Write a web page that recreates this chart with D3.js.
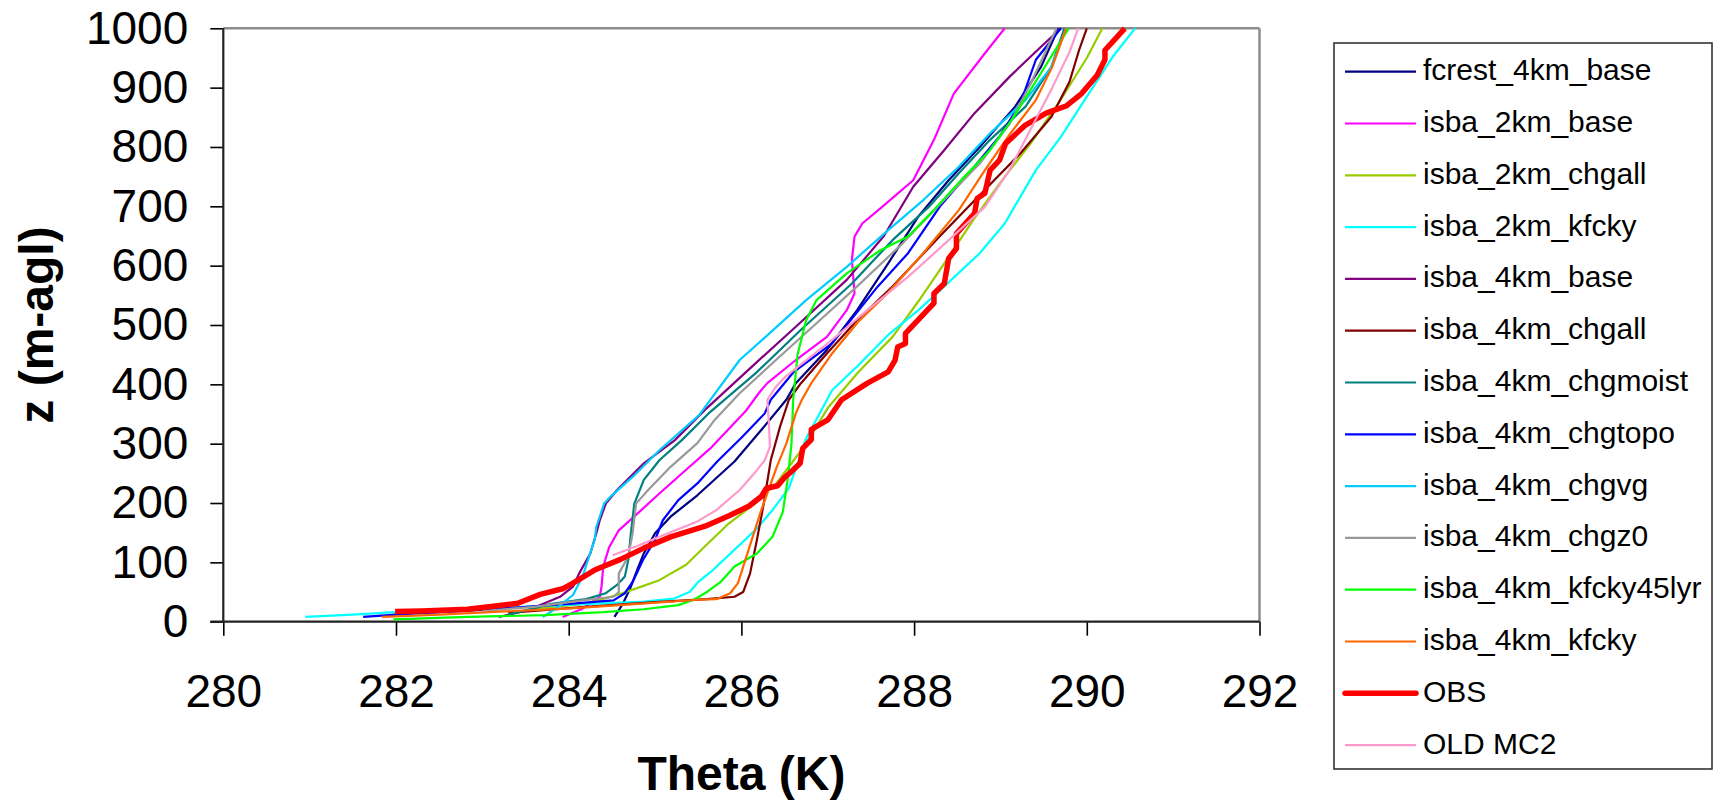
<!DOCTYPE html>
<html>
<head>
<meta charset="utf-8">
<script src="https://d3js.org/d3.v7.min.js"></script>
<style>
  body { margin: 0; background: #fff; }
  text { font-family: "Liberation Sans", Arial, sans-serif; fill: #000; }
</style>
</head>
<body>
<svg width="1723" height="800"></svg>
<script>
const xTicks = [280, 282, 284, 286, 288, 290, 292]
const yTicks = [0, 100, 200, 300, 400, 500, 600, 700, 800, 900, 1000]

const seriesNames = [
    "fcrest_4km_base", "isba_2km_base", "isba_2km_chgall", "isba_2km_kfcky",
    "isba_4km_base", "isba_4km_chgall", "isba_4km_chgmoist", "isba_4km_chgtopo",
    "isba_4km_chgvg", "isba_4km_chgz0", "isba_4km_kfcky45lyr", "isba_4km_kfcky",
    "OBS", "OLD MC2"
]

// [theta (K), z (m-agl)]
const fcrest4kmBase = [[284.53,8],[284.63,31],[284.72,59],[284.8,90],[284.87,115],[285.0,149],[285.18,177],[285.49,213],[285.92,270],[286.23,323],[286.52,374],[286.63,402],[286.99,458],[287.34,525],[287.7,604],[288.05,683],[288.4,744],[288.76,800],[289.17,868],[289.47,935],[289.67,1000]]
const isba2kmBase = [[283.93,8],[284.16,22],[284.36,42],[284.38,59],[284.4,93],[284.47,126],[284.58,154],[284.78,180],[285.05,216],[285.36,256],[285.64,292],[286.05,355],[286.2,385],[286.3,402],[286.63,441],[286.99,480],[287.22,525],[287.31,553],[287.28,610],[287.31,649],[287.4,671],[287.63,699],[287.99,744],[288.23,812],[288.46,890],[288.82,958],[289.05,1000]]
const isba2kmChgall = [[283.6,22],[284.2,30],[284.56,45],[284.8,57],[285.05,70],[285.36,96],[285.6,130],[285.85,165],[286.11,194],[286.4,232],[286.75,300],[287.0,360],[287.35,420],[287.75,480],[288.05,540],[288.35,604],[288.7,680],[289.05,750],[289.35,806],[289.7,880],[290.0,950],[290.18,1000]]
const isba2kmKfcky = [[280.95,8],[281.5,12],[282.0,16],[282.8,20],[283.6,26],[284.4,31],[284.87,34],[285.22,39],[285.4,50],[285.5,67],[285.67,87],[285.94,124],[286.18,157],[286.37,190],[286.55,225],[286.66,270],[286.74,306],[286.94,360],[287.05,390],[287.34,430],[287.72,486],[288.05,525],[288.35,565],[288.76,621],[289.05,671],[289.41,761],[289.7,817],[290.0,885],[290.3,952],[290.56,1000]]
const isba4kmBase = [[283.19,8],[283.54,20],[283.9,42],[284.05,59],[284.12,81],[284.25,115],[284.32,149],[284.36,171],[284.43,199],[284.56,222],[284.87,267],[285.23,306],[285.6,360],[286.16,435],[286.63,497],[287.22,576],[287.65,650],[287.99,733],[288.35,795],[288.7,857],[289.11,919],[289.47,969],[289.7,1000]]
const isba4kmChgall = [[283.3,15],[284.2,25],[285.0,33],[285.6,38],[285.92,42],[286.02,50],[286.1,81],[286.18,138],[286.26,200],[286.34,272],[286.45,330],[286.55,374],[286.69,402],[286.99,452],[287.34,508],[287.75,565],[288.3,650],[288.82,728],[289.23,789],[289.59,851],[289.8,910],[289.91,963],[290.0,1000]]
const isba4kmChgmoist = [[283.3,12],[283.8,30],[284.2,38],[284.43,48],[284.56,62],[284.65,76],[284.69,104],[284.72,149],[284.76,199],[284.87,239],[285.05,272],[285.31,306],[285.62,351],[286.16,418],[286.69,492],[287.28,570],[287.75,643],[288.17,699],[288.52,756],[288.88,812],[289.29,868],[289.59,935],[289.74,1000]]
const isba4kmChgtopo = [[281.62,8],[282.0,12],[283.0,20],[284.0,30],[284.52,36],[284.65,48],[284.74,67],[284.86,104],[285.0,138],[285.09,171],[285.27,205],[285.49,233],[285.72,270],[286.0,310],[286.27,351],[286.34,374],[286.6,420],[287.05,469],[287.58,565],[287.93,621],[288.3,700],[288.7,767],[289.0,820],[289.23,873],[289.41,947],[289.7,1000]]
const isba4kmChgvg = [[283.7,8],[283.85,22],[284.05,45],[284.16,76],[284.3,138],[284.32,160],[284.41,199],[284.5,213],[284.74,244],[285.05,289],[285.51,348],[285.98,441],[286.28,480],[286.75,542],[287.22,598],[287.7,660],[288.11,711],[288.52,767],[288.88,823],[289.29,879],[289.59,935],[289.76,1000]]
const isba4kmChgz0 = [[283.0,18],[283.6,25],[284.16,36],[284.52,42],[284.58,50],[284.58,81],[284.69,110],[284.74,149],[284.78,199],[284.92,222],[285.18,261],[285.49,301],[285.69,340],[285.98,385],[286.4,441],[286.87,503],[287.34,565],[287.87,638],[288.35,711],[288.76,772],[289.11,840],[289.35,907],[289.65,1000]]
const isba4kmKfcky45lyr = [[281.97,4],[282.83,8],[283.72,11],[284.4,16],[284.87,21],[285.27,28],[285.45,37],[285.6,50],[285.76,67],[285.92,93],[286.18,115],[286.36,143],[286.48,185],[286.54,244],[286.58,300],[286.6,374],[286.65,450],[286.75,508],[286.87,542],[287.22,587],[287.6,625],[287.93,649],[288.23,694],[288.55,745],[288.88,795],[289.15,850],[289.45,920],[289.79,1000]]
const isba4kmKfcky = [[281.84,8],[282.5,12],[283.2,17],[283.98,22],[284.8,30],[285.5,37],[285.71,38],[285.87,48],[285.96,65],[286.07,115],[286.23,188],[286.41,261],[286.52,300],[286.63,351],[286.7,374],[286.81,402],[287.05,452],[287.35,505],[287.69,553],[288.1,620],[288.52,694],[288.82,761],[289.1,820],[289.41,879],[289.6,935],[289.76,1000]]
const obs = [[281.99,17],[282.3,18],[282.83,21],[283.41,31],[283.67,46],[283.94,56],[284.05,65],[284.3,87],[284.6,105],[284.87,124],[285.18,143],[285.58,161],[285.85,178],[286.09,195],[286.23,211],[286.29,225],[286.42,229],[286.5,243],[286.58,253],[286.68,267],[286.71,292],[286.81,307],[286.81,324],[287.0,340],[287.16,374],[287.46,402],[287.7,421],[287.78,441],[287.81,463],[287.9,469],[287.9,486],[288.23,537],[288.23,553],[288.35,570],[288.4,612],[288.49,629],[288.49,654],[288.7,688],[288.73,713],[288.82,722],[288.88,761],[288.99,778],[289.06,806],[289.29,837],[289.53,857],[289.76,869],[289.94,890],[290.12,921],[290.21,947],[290.21,963],[290.44,1000]]
const oldMc2 = [[284.51,112],[284.8,128],[285.05,143],[285.49,169],[285.71,188],[285.98,222],[286.15,250],[286.27,272],[286.33,295],[286.32,330],[286.3,374],[286.4,396],[286.51,413],[287.05,475],[287.5,530],[287.93,581],[288.4,643],[288.82,699],[289.1,760],[289.35,830],[289.6,900],[289.8,960],[289.9,1000]]

const seriesData = [fcrest4kmBase, isba2kmBase, isba2kmChgall, isba2kmKfcky, isba4kmBase, isba4kmChgall,
    isba4kmChgmoist, isba4kmChgtopo, isba4kmChgvg, isba4kmChgz0, isba4kmKfcky45lyr, isba4kmKfcky, obs, oldMc2]

const colors = ["#000080", "#ff00ff", "#99cc00", "#00ffff", "#800080", "#800000", "#008080",
    "#0000ff", "#00ccff", "#999999", "#00ff00", "#ff6600", "#ff0000", "#ff99cc"]

const svg = d3.select('svg')
const plot = { left: 223.3, right: 1259.5, top: 28.3, bottom: 621.7 }

const x = d3.scaleLinear().domain([280, 292]).range([plot.left, plot.right])
const y = d3.scaleLinear().domain([0, 1000]).range([plot.bottom, plot.top])

// frame: grey top/right, dark axes left/bottom
svg.append('line')
    .attr('x1', plot.left).attr('x2', plot.right)
    .attr('y1', plot.top).attr('y2', plot.top)
    .attr('stroke', '#8c8c8c').attr('stroke-width', 2.5)
svg.append('line')
    .attr('x1', plot.right).attr('x2', plot.right)
    .attr('y1', plot.top).attr('y2', plot.bottom)
    .attr('stroke', '#8c8c8c').attr('stroke-width', 2.5)

const yAxis = svg.append('g')
    .attr('transform', `translate(${plot.left},0)`)
    .call(d3.axisLeft(y).tickValues(yTicks).tickFormat(d3.format('d')).tickSize(13).tickPadding(22))
const xAxis = svg.append('g')
    .attr('transform', `translate(0,${plot.bottom})`)
    .call(d3.axisBottom(x).tickValues(xTicks).tickFormat(d3.format('d')).tickSize(14).tickPadding(39))

;[yAxis, xAxis].forEach(g => {
    g.select('.domain').remove()
    g.selectAll('line').attr('stroke', '#000').attr('stroke-width', 1.6)
    g.selectAll('text').style('font-size', '46px').attr('fill', '#000')
})

svg.append('line')
    .attr('x1', plot.left).attr('x2', plot.left)
    .attr('y1', plot.top).attr('y2', plot.bottom)
    .attr('stroke', '#222').attr('stroke-width', 2.2)
svg.append('line')
    .attr('x1', plot.left - 13).attr('x2', plot.right)
    .attr('y1', plot.bottom).attr('y2', plot.bottom)
    .attr('stroke', '#222').attr('stroke-width', 2.2)

const line = d3.line()
    .x(d => x(d[0]))
    .y(d => y(d[1]))

svg.append('g')
    .selectAll('path')
    .data(seriesData)
    .enter()
    .append('path')
    .attr('d', line)
    .attr('fill', 'none')
    .attr('stroke', (d, i) => colors[i])
    .attr('stroke-width', (d, i) => seriesNames[i] === 'OBS' ? 5.5 : 2.2)
    .attr('stroke-linejoin', 'round')

// axis titles
svg.append('text')
    .attr('x', (plot.left + plot.right) / 2)
    .attr('y', 790)
    .attr('text-anchor', 'middle')
    .style('font-size', '48px')
    .style('font-weight', 'bold')
    .text('Theta (K)')

svg.append('text')
    .attr('transform', `translate(53,${(plot.top + plot.bottom) / 2}) rotate(-90)`)
    .attr('text-anchor', 'middle')
    .style('font-size', '48px')
    .style('font-weight', 'bold')
    .text('z (m-agl)')

// legend
const legend = svg.append('g')
legend.append('rect')
    .attr('x', 1334).attr('y', 43)
    .attr('width', 378).attr('height', 726)
    .attr('fill', '#fff')
    .attr('stroke', '#333').attr('stroke-width', 1.6)

const rows = legend.selectAll('g.row')
    .data(seriesNames)
    .enter()
    .append('g')
    .attr('class', 'row')
    .attr('transform', (d, i) => `translate(0,${71.7 + i * 51.8})`)

rows.append('line')
    .attr('x1', 1345).attr('x2', 1416)
    .attr('stroke', (d, i) => colors[i])
    .attr('stroke-width', d => d === 'OBS' ? 5.5 : 2.2)
    .attr('stroke-linecap', d => d === 'OBS' ? 'round' : 'butt')

rows.append('text')
    .attr('x', 1423)
    .attr('y', 8.5)
    .style('font-size', '30px')
    .text(d => d)
</script>
</body>
</html>
